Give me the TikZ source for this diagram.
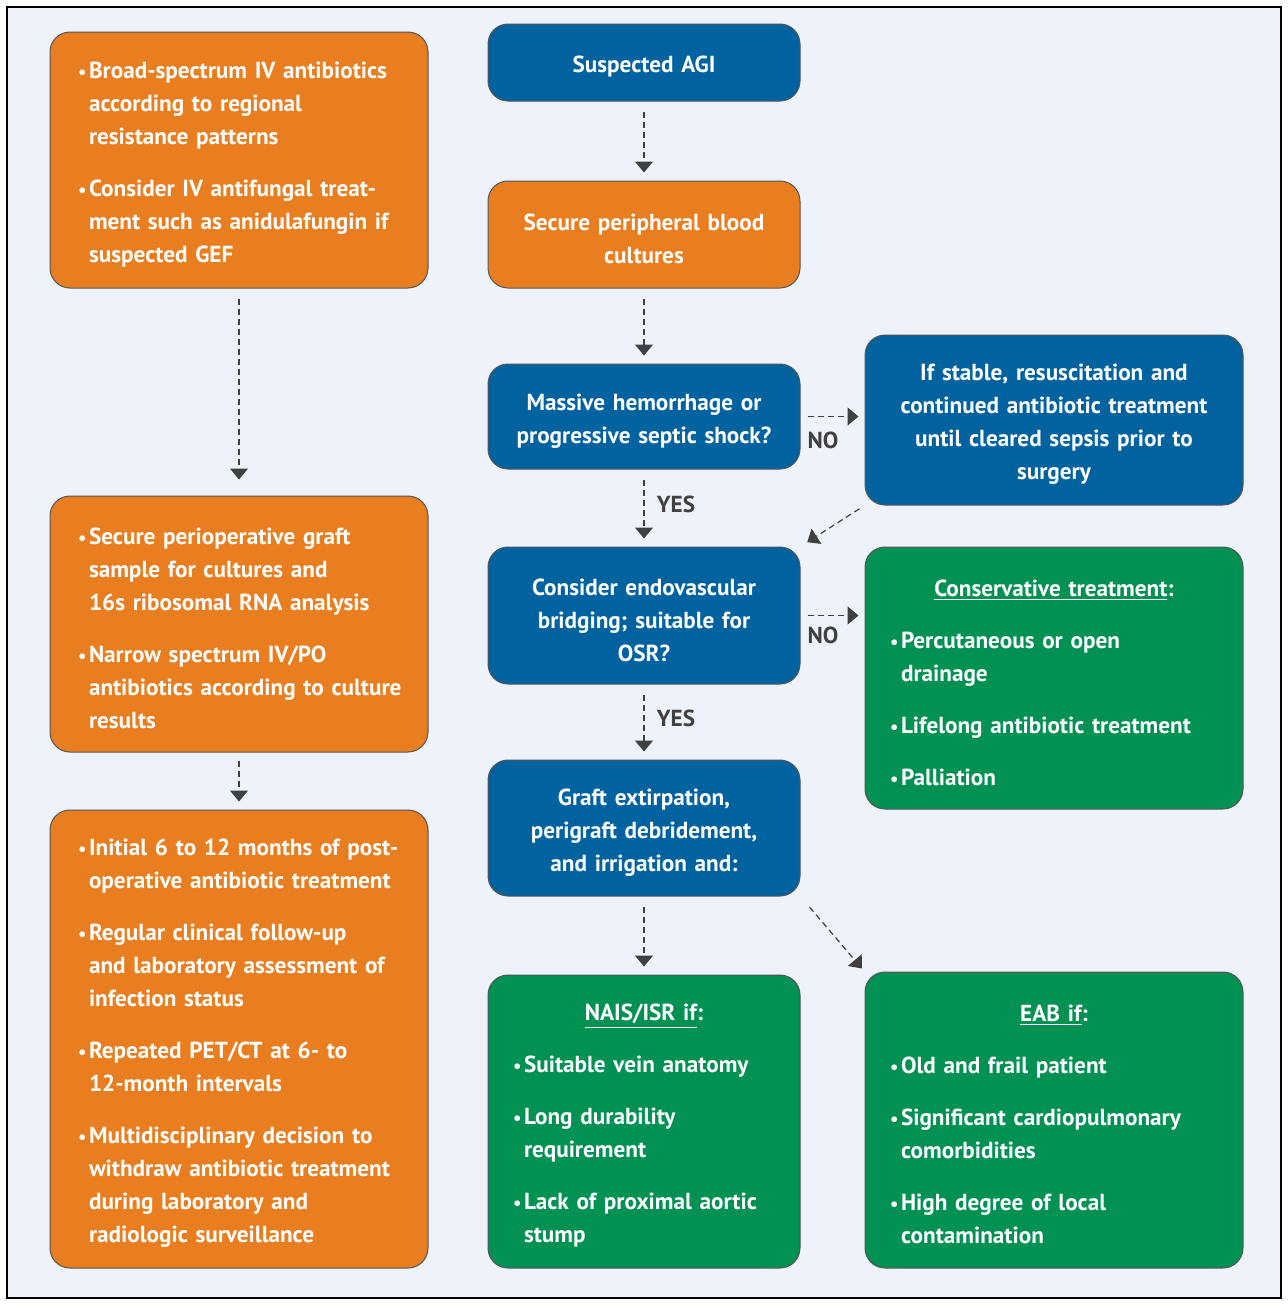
\documentclass[tikz,border=0pt]{standalone}
\usepackage{fontspec}
\setmainfont{PT Sans}
\usetikzlibrary{arrows.meta}
\definecolor{agiorange}{RGB}{233,126,33}
\definecolor{agiblue}{RGB}{0,99,160}
\definecolor{agigreen}{RGB}{0,145,83}
\definecolor{agibg}{RGB}{238,242,250}
\definecolor{agiline}{RGB}{85,85,85}
\definecolor{agigray}{RGB}{64,64,64}
\newlength{\bulw}\setlength{\bulw}{5.5pt}
\newcommand{\itm}[1]{\makebox[\bulw][l]{\scalebox{0.8}{\textbullet}}\mbox{#1}}
\newcommand{\cnt}[1]{\hspace*{\bulw}\mbox{#1}}
\newcommand{\ttl}[1]{\makebox[\hsize][c]{#1}}
\def\sidew{189pt}
\def\midw{156pt}
\def\gap{9.5pt}
\tikzset{
   agibox/.style={draw=agiline, line width=0.5pt, rounded corners=10pt, text=white, inner ysep=0pt,
      font=\fontsize{11.6}{16.5}\selectfont\bfseries, execute at begin node={\rule{0pt}{12.8pt}}},
   sidebox/.style={agibox, fill=agiorange, minimum width=\sidew, text width=161pt, inner xsep=14pt, align=left},
   midbox/.style={agibox, minimum width=\midw, text width=146pt, inner xsep=5pt, align=center},
   greenbox/.style={agibox, fill=agigreen, inner xsep=12.5pt, align=left},
   lbl/.style={text=agigray, font=\fontsize{11.6}{13}\selectfont\bfseries},
   agiarrow/.style={draw=agigray, line width=0.6pt, dash pattern=on 3pt off 2pt,
      -{Triangle[width=9pt,length=5.5pt]}, shorten <=5pt, shorten >=4pt}
}
\begin{document}
\begin{tikzpicture}[x=0.5pt, y=-0.5pt]
\useasboundingbox (0,0) rectangle (1288,1308);
\draw[fill=agibg, line width=0.8pt] (7,7) rectangle (1281,1298);

% left column
\node[sidebox, minimum height=128pt] (broad) at (239,160) {%
   \itm{Broad-spectrum IV antibiotics}\\ \cnt{according to regional}\\ \cnt{resistance patterns}\\[\gap]
   \itm{Consider IV antifungal treat-}\\ \cnt{ment such as anidulafungin if}\\ \cnt{suspected GEF}};
\node[sidebox, minimum height=128pt] (graft) at (239,624) {%
   \itm{Secure perioperative graft}\\ \cnt{sample for cultures and}\\ \cnt{16s ribosomal RNA analysis}\\[\gap]
   \itm{Narrow spectrum IV/PO}\\ \cnt{antibiotics according to culture}\\ \cnt{results}};
\node[sidebox, minimum height=229pt] (followup) at (239,1039) {%
   \itm{Initial 6 to 12 months of post-}\\ \cnt{operative antibiotic treatment}\\[\gap]
   \itm{Regular clinical follow-up}\\ \cnt{and laboratory assessment of}\\ \cnt{infection status}\\[\gap]
   \itm{Repeated PET/CT at 6- to}\\ \cnt{12-month intervals}\\[\gap]
   \itm{Multidisciplinary decision to}\\ \cnt{withdraw antibiotic treatment}\\ \cnt{during laboratory and}\\ \cnt{radiologic surveillance}};

% middle column
\node[midbox, fill=agiblue, minimum height=38.5pt] (agi) at (644,62.5) {Suspected AGI};
\node[midbox, fill=agiorange, minimum height=53.5pt] (cultures) at (644,234.5) {Secure peripheral blood\\ cultures};
\node[midbox, fill=agiblue, minimum height=52.5pt] (shock) at (644,416.5) {Massive hemorrhage or\\ progressive septic shock?};
\node[midbox, fill=agiblue, minimum height=68.5pt] (bridging) at (644,615.5) {Consider endovascular\\ bridging; suitable for\\ OSR?};
\node[midbox, fill=agiblue, minimum height=68pt] (extirp) at (644,828) {Graft extirpation,\\ perigraft debridement,\\ and irrigation and:};
\node[greenbox, text width=131pt, minimum height=146.5pt] (nais) at (644,1121.5) {%
   \ttl{\underline{NAIS/ISR if}:}\\[\gap]
   \itm{Suitable vein anatomy}\\[\gap]
   \itm{Long durability}\\ \cnt{requirement}\\[\gap]
   \itm{Lack of proximal aortic}\\ \cnt{stump}};

% right column
\node[midbox, fill=agiblue, minimum width=\sidew, text width=179pt, minimum height=85pt] (stable) at (1054,420) {%
   If stable, resuscitation and\\ continued antibiotic treatment\\ until cleared sepsis prior to\\ surgery};
\node[greenbox, text width=164pt, minimum height=131pt] (conservative) at (1054,678) {%
   \ttl{\underline{Conservative treatment}:}\\[\gap]
   \itm{Percutaneous or open}\\ \cnt{drainage}\\[\gap]
   \itm{Lifelong antibiotic treatment}\\[\gap]
   \itm{Palliation}};
\node[greenbox, text width=164pt, minimum height=148pt] (eab) at (1054,1120) {%
   \ttl{\underline{EAB if}:}\\[\gap]
   \itm{Old and frail patient}\\[\gap]
   \itm{Significant cardiopulmonary}\\ \cnt{comorbidities}\\[\gap]
   \itm{High degree of local}\\ \cnt{contamination}};

% connectors
\foreach \a/\b in {agi/cultures, cultures/shock, extirp/nais} {
   \draw[agiarrow] (\a) -- (\b);
}
\draw[agiarrow, shorten >=8pt] (broad) -- (graft);
\draw[agiarrow, shorten <=4pt] (graft) -- (followup);
\draw[agiarrow] (shock) -- (bridging) node[lbl, pos=0.45, xshift=16pt] {YES};
\draw[agiarrow] (bridging) -- (extirp) node[lbl, pos=0.45, xshift=16pt] {YES};
\draw[agiarrow, shorten <=3.5pt, shorten >=3pt] (shock.east) -- (shock.east -| stable.west)
   node[lbl, pos=0.35, yshift=-12pt] {NO};
\draw[agiarrow, shorten <=3.5pt, shorten >=3pt] (bridging.east) -- (bridging.east -| conservative.west)
   node[lbl, pos=0.35, yshift=-10pt] {NO};
\draw[agiarrow, shorten <=3pt, shorten >=4pt] (stable.south west) -- (bridging.north east);
\draw[agiarrow, shorten <=7pt, shorten >=2pt] (extirp.south east) -- (eab.north west);
\end{tikzpicture}
\end{document}
